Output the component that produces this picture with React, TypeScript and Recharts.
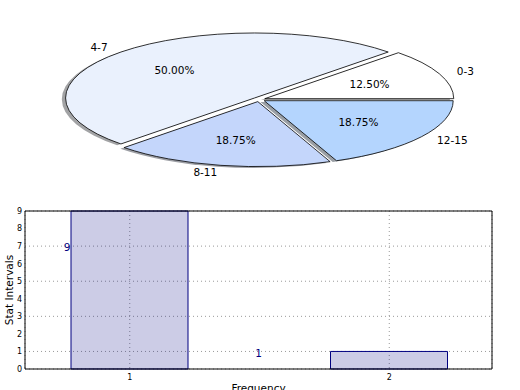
import { PieChart, Pie, ComposedChart, Bar, Scatter, XAxis, YAxis, CartesianGrid, Label } from "recharts"

// pie: counts per interval
const pieNames = ["0-3", "4-7", "8-11", "12-15"]
const pieCounts = [2, 8, 3, 3]
const pieColors = ["#ffffff", "#eaf1fd", "#c4d6fb", "#b4d5fe"]

// bars
const barX = [1, 2]
const barValues = [9, 1]
const yTicks = [0, 1, 2, 3, 4, 5, 6, 7, 8, 9]

// text annotations (data coordinates)
const noteX = [0.775, 1.5]
const noteY = [6.95, 0.9]
const noteText = ["9", "1"]
const noteAnchor = ["end", "middle"]

const pieData = pieNames.map((name, i) => ({ name, value: pieCounts[i], color: pieColors[i] }))
const barData = barX.map((x, i) => ({ x, value: barValues[i] }))
const noteData = noteX.map((x, i) => ({ x, y: noteY[i], text: noteText[i], anchor: noteAnchor[i] }))

const ASPECT = 65 / 189
const EXPLODE = 0.033
const RAD = Math.PI / 180
const FONT = "DejaVu Sans, sans-serif"
const NAVY = "#000080"

function wedge(p: any) {
  const r = p.outerRadius
  const ry = r * ASPECT
  const m = p.midAngle * RAD
  const ox = p.cx + EXPLODE * r * Math.cos(m)
  const oy = p.cy - EXPLODE * ry * Math.sin(m)
  const a0 = p.startAngle * RAD
  const a1 = p.endAngle * RAD
  const large = p.endAngle - p.startAngle > 180 ? 1 : 0
  const d = `M${ox},${oy} L${ox + r * Math.cos(a0)},${oy - ry * Math.sin(a0)} A${r},${ry} 0 ${large} 0 ${ox + r * Math.cos(a1)},${oy - ry * Math.sin(a1)} Z`
  return { d, ox, oy, r, ry, m }
}

function shadowLabel(p: any) {
  const { d, r, ry } = wedge(p)
  const c = p.payload.color
  const n = parseInt(c.slice(1), 16)
  const rgb = [(n >> 16) & 255, (n >> 8) & 255, n & 255].map((v) => Math.round(v * 0.3))
  return (
    <path
      key={"s" + p.index}
      d={d}
      transform={`translate(${-0.02 * r},${0.02 * ry})`}
      fill={`rgb(${rgb.join(",")})`}
      fillOpacity={0.5}
      stroke="none"
    />
  )
}

function wedgeLabel(p: any) {
  const { d, ox, oy, r, ry, m } = wedge(p)
  const cos = Math.cos(m)
  const sin = Math.sin(m)
  return (
    <g key={"w" + p.index}>
      <path d={d} fill={p.payload.color} stroke="#000" strokeWidth={0.8} />
      <text x={ox + 0.6 * r * cos} y={oy - 0.6 * ry * sin} textAnchor="middle" dominantBaseline="central"
        fontFamily={FONT} fontSize={10.5} fill="#000">
        {(p.percent * 100).toFixed(2)}%
      </text>
      <text x={ox + 1.1 * r * cos} y={oy - 1.1 * ry * sin} textAnchor={cos < 0 ? "end" : "start"}
        dominantBaseline="central" fontFamily={FONT} fontSize={10.5} fill="#000">
        {p.name}
      </text>
    </g>
  )
}

function noteShape(p: any) {
  return (
    <text x={p.cx} y={p.cy} textAnchor={p.payload.anchor} dominantBaseline="central"
      fontFamily={FONT} fontSize={10.5} fill={NAVY}>
      {p.payload.text}
    </text>
  )
}

export default function App() {
  return (
    <div style={{ position: "absolute", left: 0, top: 0, width: 520, height: 390, background: "#fff", fontFamily: FONT }}>
      <div style={{ position: "absolute", left: 0, top: 0 }}>
        <PieChart width={520} height={195} margin={{ top: 0, right: 0, bottom: 0, left: 0 }}>
          <Pie data={pieData} dataKey="value" nameKey="name" cx={259} cy={99.5} outerRadius={189}
            startAngle={0} endAngle={360} fill="transparent" stroke="none" label={shadowLabel}
            labelLine={false} isAnimationActive={false} />
          <Pie data={pieData} dataKey="value" nameKey="name" cx={259} cy={99.5} outerRadius={189}
            startAngle={0} endAngle={360} fill="transparent" stroke="none" label={wedgeLabel}
            labelLine={false} isAnimationActive={false} />
        </PieChart>
      </div>
      <div style={{ position: "absolute", left: 0, top: 0 }}>
        <ComposedChart width={520} height={390} data={barData} margin={{ top: 210, right: 27, bottom: 0, left: 0 }}>
          <CartesianGrid stroke="#999" strokeDasharray="1 3" strokeWidth={1}
            horizontal={{ shapeRendering: "crispEdges" } as any} vertical={{ shapeRendering: "crispEdges" } as any} />
          <XAxis dataKey="x" type="category" padding={{ left: -25, right: -27 }}
            height={21} tickLine={false} tickSize={0} tickMargin={5}
            tick={{ fontSize: 8, fill: "#000", fontFamily: FONT }} axisLine={{ stroke: "#000" }}>
            <Label value="Frequency" position="insideBottom" offset={-2} fontSize={10.5} fill="#000" fontFamily={FONT} />
          </XAxis>
          <XAxis xAxisId="top" dataKey="x" orientation="top" type="number" domain={[0.6, 2.4]} allowDataOverflow
            height={1} tick={false} tickLine={false} axisLine={{ stroke: "#000" }} />
          <YAxis type="number" domain={[0, 9]} ticks={yTicks} width={25} tickLine={false} tickSize={0}
            tickMargin={3} tick={{ fontSize: 8, fill: "#000", fontFamily: FONT }} axisLine={{ stroke: "#000" }}>
            <Label value="Stat Intervals" angle={-90} position="insideLeft" offset={9} fontSize={10.5}
              fill="#000" fontFamily={FONT} style={{ textAnchor: "middle" }} />
          </YAxis>
          <YAxis yAxisId="right" orientation="right" type="number" domain={[0, 9]} allowDataOverflow width={1}
            tick={false} tickLine={false} axisLine={{ stroke: "#000" }} />
          <Bar dataKey="value" barSize={117} fill={NAVY} fillOpacity={0.2} stroke={NAVY} strokeWidth={1}
            isAnimationActive={false} />
          <Scatter data={noteData} dataKey="y" xAxisId="top" yAxisId="right" shape={noteShape} isAnimationActive={false} />
        </ComposedChart>
      </div>
    </div>
  )
}
